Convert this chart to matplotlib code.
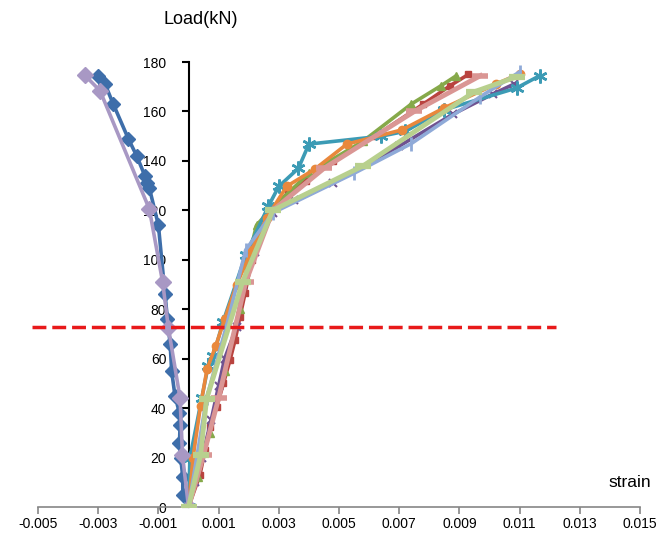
import matplotlib.pyplot as plt

plt.rcParams['font.family'] = ['Liberation Sans', 'DejaVu Sans']

# Gauge readings (strain) vs. load (kN)
blue_strain = [0, -0.00019, -0.00019, -0.00026, -0.0003, -0.00028, -0.0003, -0.00045, -0.00056,
               -0.00061, -0.0007, -0.00078, -0.001, -0.0013, -0.00137, -0.00145, -0.00172, -0.002,
               -0.0025, -0.00277, -0.0030]
blue_load = [0, 5, 12, 20, 26, 33, 38, 45, 55, 66, 76, 86, 114, 129, 131, 134, 142, 149, 163, 171, 174.5]

lav_strain = [0, -0.0002, -0.00028, -0.00067, -0.00086, -0.0013, -0.00294, -0.00344]
lav_load = [0, 21, 44, 72.6, 91, 120.5, 168.4, 174.6]

red_strain = [0, 0.00038, 0.00055, 0.00071, 0.00094, 0.00116, 0.00138, 0.00155, 0.00171, 0.00188,
              0.0021, 0.0023, 0.0028, 0.0033, 0.0039, 0.0048, 0.0062, 0.0078, 0.0087, 0.0093]
red_load = [0, 13, 23, 32.5, 40.6, 50, 59.5, 67.6, 77, 86.5, 100, 110, 121, 127, 132, 140, 150, 163,
            170.5, 175]

green_strain = [0, 0.0003, 0.0007, 0.0012, 0.0017, 0.002, 0.00226, 0.0027, 0.0040, 0.0058, 0.0074,
                0.0084, 0.0089]
green_load = [0, 12, 30, 55, 80, 101, 114, 120, 135, 148, 163, 170.5, 174.5]

purple_strain = [0, 0.0002, 0.00045, 0.00075, 0.001, 0.0012, 0.0016, 0.0018, 0.0022, 0.0028, 0.0035,
                 0.0048, 0.007, 0.0088, 0.0101, 0.0108]
purple_load = [0, 10, 20, 35, 49, 60, 73, 90, 103, 119, 124, 131, 146, 159, 167, 171]

teal_strain = [0, 0.00005, 0.00044, 0.00065, 0.00082, 0.00115, 0.0019, 0.00265, 0.003, 0.00365,
               0.004, 0.0064, 0.0072, 0.0085, 0.0109, 0.01167]
teal_load = [0, 20, 44, 57, 61, 75, 102, 121.6, 129.7, 137, 146.8, 150, 152, 160.7, 169.5, 174.5]

orange_strain = [0, 0.00015, 0.0004, 0.00062, 0.0009, 0.0012, 0.0016, 0.0021, 0.0026, 0.00326,
                 0.0042, 0.00526, 0.0071, 0.0085, 0.0102, 0.011]
orange_load = [0, 20, 41, 56, 65, 76, 90, 104, 117, 129.7, 136.7, 146.8, 152.6, 161.5, 171, 175.3]

pink_strain = [0, 0.0005, 0.001, 0.0019, 0.0028, 0.0045, 0.0075, 0.0097]
pink_load = [0, 21, 44, 91, 120, 137, 160, 174.5]

ltblue_strain = [0, 0.0003, 0.0006, 0.0013, 0.0019, 0.0028, 0.0055, 0.0074, 0.0097, 0.011]
ltblue_load = [0, 22, 44, 75, 104, 119, 135, 147, 166, 176]

ltgreen_strain = [0, 0.0004, 0.0006, 0.0018, 0.0028, 0.0058, 0.0095, 0.0109]
ltgreen_load = [0, 21, 43.6, 91.2, 120, 138, 168, 174]

ref_load = 72.8

fig = plt.figure(figsize=(6.69, 5.49), dpi=100)
ax = fig.add_axes([0.0568, 0.0765, 0.8999, 0.8105])

lw = 2.6
ax.plot(blue_strain, blue_load, color='#3E6EAA', lw=lw, marker='D', ms=7, zorder=3)
ax.plot(red_strain, red_load, color='#B9433F', lw=lw, marker='s', ms=5, zorder=3)
ax.plot(green_strain, green_load, color='#86A94A', lw=lw, marker='^', ms=6, zorder=3)
ax.plot(purple_strain, purple_load, color='#6F5290', lw=lw, marker='x', ms=6, mew=1.5, zorder=3)
ax.plot(teal_strain, teal_load, color='#3C9BB5', lw=lw, marker=(6, 2, 0), ms=10, mew=1.8, zorder=3)
ax.plot(orange_strain, orange_load, color='#E9883C', lw=lw, marker='o', ms=6, zorder=3)
ax.plot(lav_strain, lav_load, color='#A898C4', lw=lw, marker='D', ms=8, zorder=3)
ax.plot(pink_strain, pink_load, color='#DA9694', lw=3.5, marker='_', ms=11, mew=4, zorder=3)
ax.plot(ltblue_strain, ltblue_load, color='#8FAAD8', lw=lw, marker='|', ms=10, mew=2, zorder=3)
ax.plot(ltgreen_strain, ltgreen_load, color='#B8D08E', lw=3.5, marker='_', ms=12, mew=4.5, zorder=3)

# reference load line
ax.plot([-0.0052, 0.0122], [ref_load, ref_load], color='#E8191A', lw=2.5, ls=(0, (4, 1.7)),
        clip_on=False, zorder=4)

ax.set_xlim(-0.005, 0.015)
ax.set_ylim(0, 180)

ax.spines['left'].set_position(('data', 0))
ax.spines['bottom'].set_position(('data', 0))
ax.spines['top'].set_visible(False)
ax.spines['right'].set_visible(False)
ax.spines['left'].set_linewidth(1.5)
ax.spines['bottom'].set_color('#868686')
ax.spines['bottom'].set_linewidth(1.2)

ax.set_yticks(range(0, 181, 20))
xt = [-0.005 + 0.002 * i for i in range(11)]
ax.set_xticks(xt)
ax.set_xticklabels(['%.3f' % v for v in xt])
ax.tick_params(axis='y', direction='out', length=5, width=1.5, labelsize=10, pad=11)
ax.tick_params(axis='x', direction='out', length=5, width=1.2, color='#868686', labelsize=10, pad=2)

fig.text(0.30, 0.965, 'Load(kN)', fontsize=13, ha='center', va='center')
fig.text(0.942, 0.122, 'strain', fontsize=12.5, ha='center', va='center')

fig.savefig('out.png', dpi=100)
